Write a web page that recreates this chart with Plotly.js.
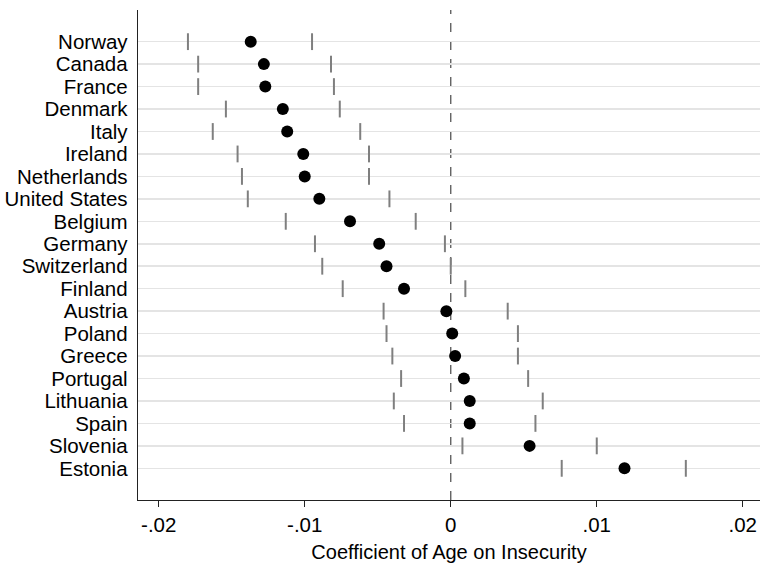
<!DOCTYPE html>
<html>
<head>
<meta charset="utf-8">
<script src="https://cdn.plot.ly/plotly-3.0.1.min.js"></script>
<style>html,body{margin:0;padding:0;background:#fff;}#chart{width:760px;height:566px;}</style>
</head>
<body>
<div id="chart"></div>
<script>
const countries = ["Norway","Canada","France","Denmark","Italy","Ireland","Netherlands","United States","Belgium","Germany","Switzerland","Finland","Austria","Poland","Greece","Portugal","Lithuania","Spain","Slovenia","Estonia"];
const coef  = [-0.0137,-0.0128,-0.0127,-0.0115,-0.0112,-0.0101,-0.0100,-0.0090,-0.0069,-0.0049,-0.0044,-0.0032,-0.0003,0.0001,0.0003,0.0009,0.0013,0.0013,0.0054,0.0119];
const lower = [-0.0180,-0.0173,-0.0173,-0.0154,-0.0163,-0.0146,-0.0143,-0.0139,-0.0113,-0.0093,-0.0088,-0.0074,-0.0046,-0.0044,-0.0040,-0.0034,-0.0039,-0.0032,0.0008,0.0076];
const upper = [-0.0095,-0.0082,-0.0080,-0.0076,-0.0062,-0.0056,-0.0056,-0.0042,-0.0024,-0.0004,0.0000,0.0010,0.0039,0.0046,0.0046,0.0053,0.0063,0.0058,0.0100,0.0161];
const xTickVals = [-0.02,-0.01,0,0.01,0.02];
const xTickText = ["-.02","-.01","0",".01",".02"];
const xTitle = "Coefficient of Age on Insecurity";

const font = "Liberation Sans, Arial, Helvetica, sans-serif";
const fs = 20.5;
const ciStyle = {symbol:"line-ns", size:12, line:{width:2, color:"#7f7f7f"}, color:"#7f7f7f"};

const traces = [
  {type:"scatter", mode:"markers", x:lower, y:countries, marker:ciStyle, hoverinfo:"x+y", showlegend:false},
  {type:"scatter", mode:"markers", x:upper, y:countries, marker:ciStyle, hoverinfo:"x+y", showlegend:false},
  {type:"scatter", mode:"markers", x:coef, y:countries, marker:{symbol:"circle", size:12, color:"#000"}, hoverinfo:"x+y", showlegend:false}
];

const layout = {
  width:760, height:566,
  margin:{l:138, r:0, t:10, b:66},
  paper_bgcolor:"#fff", plot_bgcolor:"#fff",
  font:{family:font, size:fs, color:"#000"},
  showlegend:false,
  xaxis:{
    range:[-0.02142, 0.02118],
    tickmode:"array", tickvals:xTickVals, ticktext:xTickText,
    ticks:"outside", ticklen:6, tickwidth:1.3, tickcolor:"#222",
    showgrid:false, zeroline:false,
    showline:true, linecolor:"#222", linewidth:1.3,
    tickfont:{size:fs, family:font, color:"#000"},
    title:{text:xTitle, font:{size:20, family:font, color:"#000"}, standoff:10}
  },
  yaxis:{
    type:"category",
    range:[20.41, -1.41],
    tickmode:"array", tickvals:countries, ticktext:countries,
    showgrid:true, gridcolor:"#e4e4e4", gridwidth:1.6,
    zeroline:false,
    showline:true, linecolor:"#222", linewidth:1.3,
    ticks:"", ticklabelstandoff:5,
    tickfont:{size:fs, family:font, color:"#000"}
  },
  shapes:[{type:"line", xref:"x", yref:"paper", x0:0, x1:0, y0:0, y1:1, layer:"between",
           line:{color:"#555", width:1.3, dash:"dash"}}]
};

Plotly.newPlot("chart", traces, layout, {displayModeBar:false, staticPlot:true});
</script>
</body>
</html>
